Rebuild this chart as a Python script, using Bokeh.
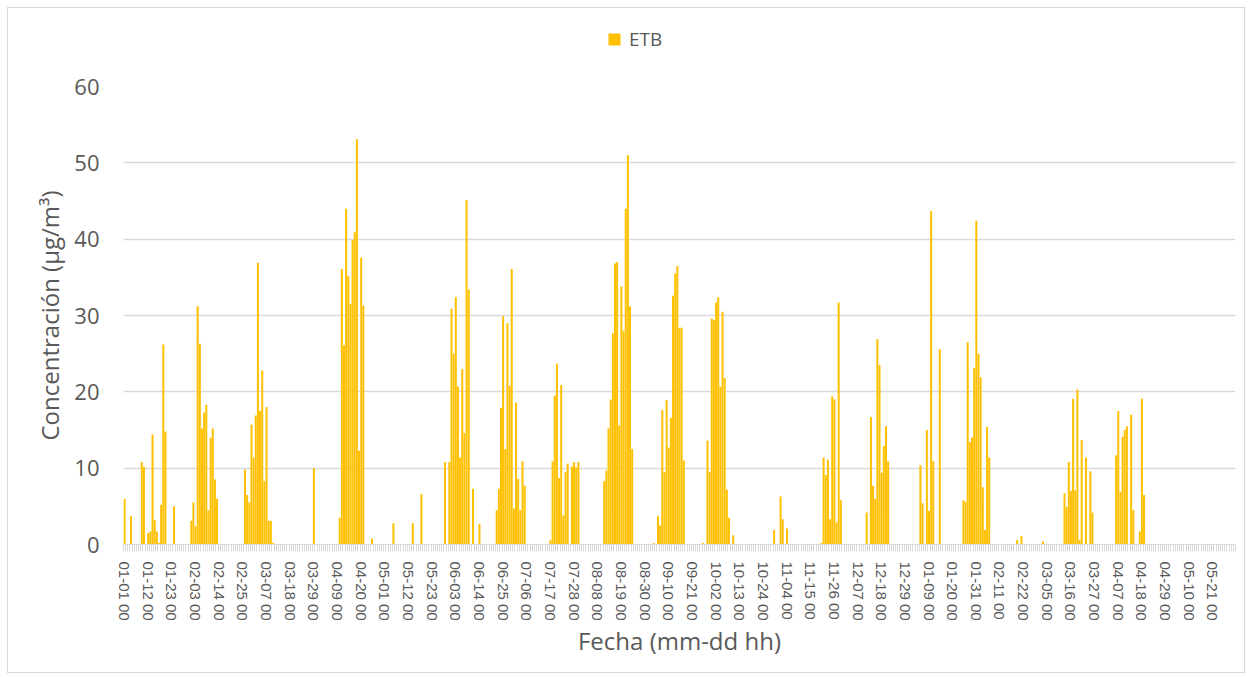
from bokeh.plotting import figure
from bokeh.layouts import column
from bokeh.models import ColumnDataSource, FixedTicker, Range1d, Legend, LegendItem
from bokeh.embed import file_html
from bokeh.resources import INLINE

# Daily ETB concentration (µg/m³), one list per month, 2016-01-01 .. 2017-05-31
etb_2016_01 = [6.0, 0, 0, 3.7, 0, 0, 0, 0, 10.8, 10.2, 0, 1.5, 1.7, 14.4, 3.2, 1.7,
               0.2, 5.2, 26.2, 14.8, 0, 0, 0, 5.0, 0, 0, 0, 0, 0, 0, 0]
etb_2016_02 = [3.1, 5.5, 2.4, 31.2, 26.3, 15.2, 17.3, 18.3, 4.5, 14.0, 15.2, 8.5, 6.0,
               0, 0, 0, 0, 0, 0, 0, 0, 0, 0, 0, 0, 9.8, 6.5, 5.5, 15.7]
etb_2016_03 = [11.4, 16.9, 36.9, 17.5, 22.8, 8.3, 18.0, 3.1, 3.1, 0.2,
               0, 0, 0, 0, 0, 0, 0, 0, 0, 0, 0, 0, 0, 0, 0, 0, 0, 0, 10.0, 0, 0]
etb_2016_04 = [0, 0, 0, 0, 0, 0, 0, 0, 0, 3.5, 36.1, 26.1, 44.0, 35.2, 31.5, 39.9,
               40.9, 53.1, 12.3, 37.6, 31.3, 0, 0, 0, 0.8, 0, 0, 0, 0, 0]
etb_2016_05 = [0, 0, 0, 0, 2.8, 0, 0, 0, 0, 0, 0, 0, 0, 2.8, 0, 0, 0, 6.6,
               0, 0, 0, 0, 0, 0, 0, 0, 0, 0, 10.8, 0, 10.8]
etb_2016_06 = [30.9, 25.0, 32.4, 20.7, 11.4, 23.0, 14.6, 45.1, 33.4, 0, 7.3, 0, 0, 2.7,
               0, 0, 0, 0, 0, 0, 0, 4.5, 7.3, 17.9, 29.9, 12.5, 29.0, 20.8, 36.1, 4.7]
etb_2016_07 = [18.6, 8.6, 4.5, 10.9, 7.7, 0, 0, 0, 0, 0, 0, 0, 0, 0, 0, 0,
               0.6, 10.9, 19.5, 23.7, 8.7, 20.9, 3.8, 9.5, 10.6, 0, 10.2, 10.8, 10.1, 10.8, 0]
etb_2016_08 = [0, 0, 0, 0, 0, 0, 0, 0, 0, 0, 8.3, 9.7, 15.2, 19.0, 27.7, 36.8, 37.0,
               15.6, 33.8, 28.0, 44.0, 51.0, 31.2, 12.5, 0, 0, 0, 0, 0, 0, 0]
etb_2016_09 = [0, 0, 0.2, 0, 3.7, 2.5, 17.6, 9.5, 18.9, 12.7, 16.6, 32.6, 35.5, 36.5,
               28.4, 28.4, 11.0, 0, 0, 0, 0, 0, 0, 0, 0, 0.2, 0, 13.6, 9.5, 29.6]
etb_2016_10 = [29.4, 31.7, 32.4, 20.7, 30.5, 21.8, 7.2, 3.5, 0, 1.2,
               0, 0, 0, 0, 0, 0, 0, 0, 0, 0, 0, 0, 0, 0, 0, 0, 0, 0, 1.9, 0, 0]
etb_2016_11 = [6.3, 3.3, 0, 2.1, 0, 0, 0, 0, 0, 0, 0, 0, 0, 0, 0, 0, 0, 0, 0,
               0.2, 11.4, 9.1, 11.1, 3.3, 19.4, 19.0, 2.9, 31.7, 5.8, 0]
etb_2016_12 = [0, 0, 0, 0, 0, 0, 0, 0, 0, 0, 4.2, 0, 16.7, 7.7, 6.0, 26.9, 23.5,
               9.4, 12.9, 15.5, 10.9, 0, 0, 0, 0, 0, 0, 0, 0, 0, 0]
etb_2017_01 = [0, 0, 0, 0, 10.4, 5.4, 0, 15.0, 4.4, 43.7, 10.9, 0, 0, 25.6,
               0, 0, 0, 0, 0, 0, 0, 0, 0, 0, 5.8, 5.6, 26.5, 13.4, 14.0, 23.1, 42.4]
etb_2017_02 = [25.0, 21.9, 7.5, 1.9, 15.4, 11.4, 0, 0, 0, 0, 0, 0, 0, 0, 0, 0, 0, 0,
               0.6, 0, 1.1, 0, 0, 0, 0, 0, 0, 0]
etb_2017_03 = [0, 0, 0.4, 0, 0, 0, 0, 0, 0, 0, 0, 0, 6.7, 4.9, 10.8, 7.0, 19.1, 7.1,
               20.3, 0.6, 13.7, 0, 11.4, 0, 9.6, 4.2, 0, 0, 0, 0, 0]
etb_2017_04 = [0, 0, 0, 0, 0, 11.7, 17.5, 6.9, 14.1, 15.0, 15.5, 0, 17.0, 4.5, 0, 0,
               1.7, 19.1, 6.5, 0, 0, 0, 0, 0, 0, 0, 0, 0, 0, 0]
etb_2017_05 = [0, 0, 0, 0, 0, 0, 0, 0, 0, 0, 0, 0, 0, 0, 0, 0, 0, 0, 0, 0, 0, 0,
               0, 0, 0, 0, 0, 0, 0, 0, 0]

meses = [etb_2016_01, etb_2016_02, etb_2016_03, etb_2016_04, etb_2016_05, etb_2016_06,
         etb_2016_07, etb_2016_08, etb_2016_09, etb_2016_10, etb_2016_11, etb_2016_12,
         etb_2017_01, etb_2017_02, etb_2017_03, etb_2017_04, etb_2017_05]
dias_mes = [31, 29, 31, 30, 31, 30, 31, 31, 30, 31, 30, 31, 31, 28, 31, 30, 31]
for m, n in zip(meses, dias_mes):
    assert len(m) == n, (len(m), n)

etb = [v for m in meses for v in m]
dias = list(range(len(etb)))

etiquetas = ["01-01 00", "01-12 00", "01-23 00", "02-03 00", "02-14 00", "02-25 00",
             "03-07 00", "03-18 00", "03-29 00", "04-09 00", "04-20 00", "05-01 00",
             "05-12 00", "05-23 00", "06-03 00", "06-14 00", "06-25 00", "07-06 00",
             "07-17 00", "07-28 00", "08-08 00", "08-19 00", "08-30 00", "09-10 00",
             "09-21 00", "10-02 00", "10-13 00", "10-24 00", "11-04 00", "11-15 00",
             "11-26 00", "12-07 00", "12-18 00", "12-29 00", "01-09 00", "01-20 00",
             "01-31 00", "02-11 00", "02-22 00", "03-05 00", "03-16 00", "03-27 00",
             "04-07 00", "04-18 00", "04-29 00", "05-10 00", "05-21 00"]
paso = 11
y_ticks = [0, 10, 20, 30, 40, 50, 60]

FONT = "Open Sans"
GRIS = "#595959"
LINEA = "#d9d9d9"
ORO = "#FFC000"

W = 1236

# ---- legend strip on top ----
top = figure(frame_width=W, frame_height=58, min_border=0,
             x_range=Range1d(0, W), y_range=Range1d(0, 58),
             x_axis_type=None, y_axis_type=None,
             output_backend="svg", toolbar_location=None)
top.outline_line_color = None
top.grid.visible = False
# legend-only renderer, kept outside the visible range of this strip
muestra = top.scatter(x=[-100], y=[1], marker="square", size=12,
                      fill_color=ORO, line_color=None)
legend = Legend(items=[LegendItem(label="ETB", renderers=[muestra])], location=(591, 12),
                orientation="horizontal", padding=0, margin=0, spacing=0,
                glyph_width=30, glyph_height=30, label_standoff=0,
                label_text_font=FONT, label_text_font_size="19px", label_text_color=GRIS,
                border_line_color=None, background_fill_alpha=0)
top.add_layout(legend, "center")

# ---- main chart ----
src = ColumnDataSource(dict(dia=dias, etb=etb))

p = figure(frame_width=1112, frame_height=458,
           min_border_left=115, min_border_right=9, min_border_top=20, min_border_bottom=128,
           x_range=Range1d(-0.5, len(etb) - 0.5), y_range=Range1d(0, 60),
           output_backend="svg", toolbar_location=None)
p.outline_line_color = None

r = p.vbar(x="dia", top="etb", width=0.93, source=src, fill_color=ORO, line_color=None)

tick_pos = [i * paso for i in range(len(etiquetas))]
p.xaxis.ticker = FixedTicker(ticks=tick_pos, minor_ticks=[i - 0.5 for i in range(len(etb) + 1)])
p.xaxis.major_label_overrides = {t: lab for t, lab in zip(tick_pos, etiquetas)}
p.xaxis.major_label_orientation = "vertical"
p.xaxis.major_tick_out = 0
p.xaxis.major_tick_in = 0
p.xaxis.minor_tick_out = 7
p.xaxis.minor_tick_in = 0
p.xaxis.minor_tick_line_color = LINEA
p.xaxis.axis_line_color = LINEA
p.xaxis.major_label_standoff = 10
p.xaxis.major_label_text_font = "Liberation Sans"
p.xaxis.major_label_text_font_size = "15px"
p.xaxis.major_label_text_color = GRIS
p.xaxis.axis_label = "Fecha (mm-dd hh)"
p.xaxis.axis_label_text_font = FONT
p.xaxis.axis_label_text_font_size = "24px"
p.xaxis.axis_label_text_font_style = "normal"
p.xaxis.axis_label_text_color = GRIS
p.xaxis.axis_label_standoff = 0

p.yaxis.ticker = FixedTicker(ticks=y_ticks)
p.yaxis.axis_line_color = None
p.yaxis.major_tick_line_color = None
p.yaxis.minor_tick_line_color = None
p.yaxis.major_tick_out = 0
p.yaxis.major_label_standoff = 24
p.yaxis.major_label_text_font = FONT
p.yaxis.major_label_text_font_size = "22px"
p.yaxis.major_label_text_color = GRIS
p.yaxis.axis_label = "Concentración (µg/m³)"
p.yaxis.axis_label_text_font = FONT
p.yaxis.axis_label_text_font_size = "24px"
p.yaxis.axis_label_text_font_style = "normal"
p.yaxis.axis_label_text_color = GRIS
p.yaxis.axis_label_standoff = 5

p.xgrid.visible = False
p.ygrid.grid_line_color = LINEA
p.ygrid.grid_line_width = 1.3

layout = column(top, p, spacing=0,
                styles={"border": "1px solid #d9d9d9", "margin": "7px", "background": "white"})

open("out.html", "w").write(file_html(layout, INLINE))
